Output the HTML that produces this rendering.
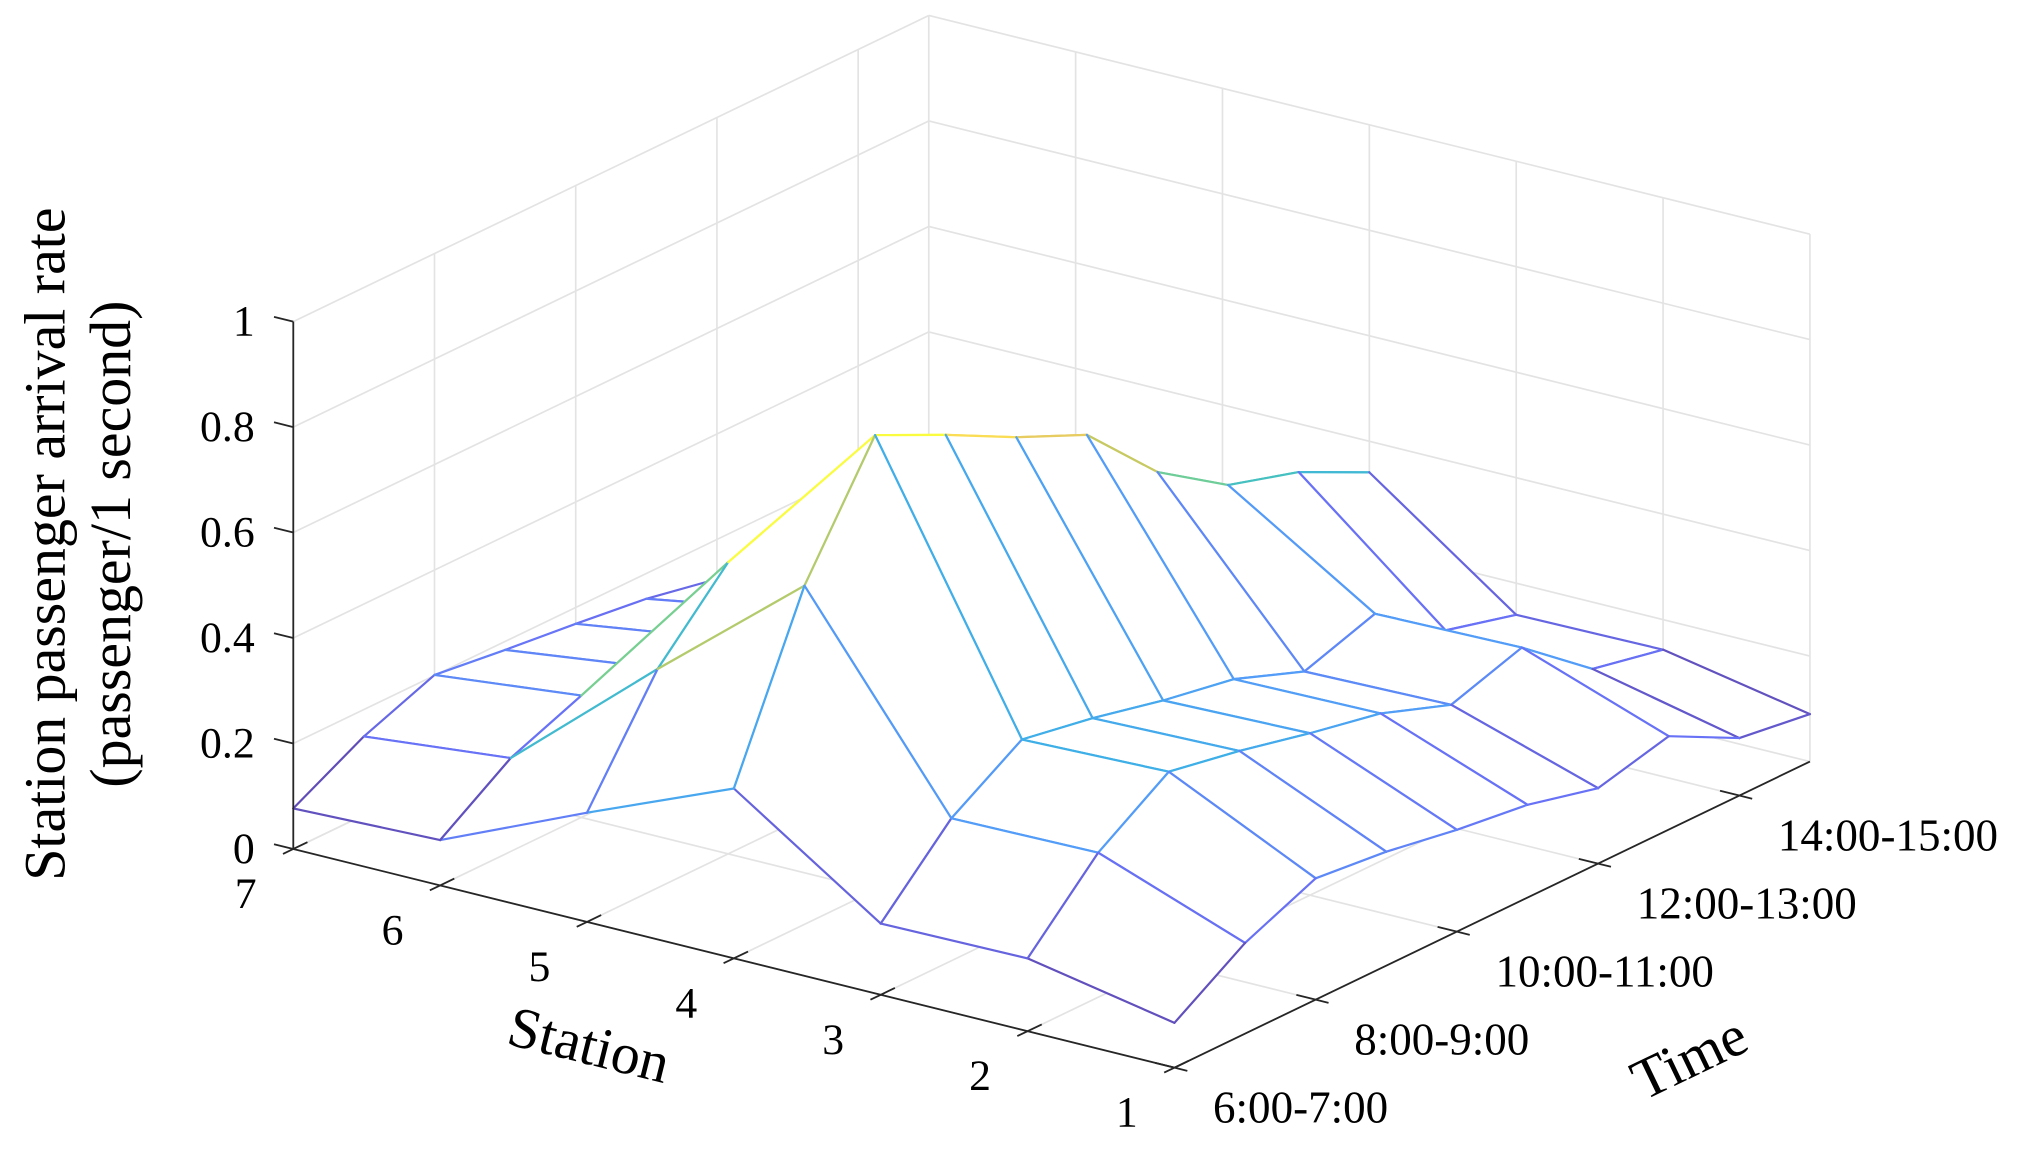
<!DOCTYPE html>
<html><head><meta charset="utf-8"><title>Station passenger arrival rate</title>
<style>html,body{margin:0;padding:0;background:#fff;}svg{display:block;}
text{font-family:"Liberation Serif",serif;fill:#000;}</style></head>
<body>
<svg id="chart" width="2017" height="1150" viewBox="0 0 1568 894" preserveAspectRatio="none" xmlns="http://www.w3.org/2000/svg">
<g id="walls"></g>
<g id="mesh"></g>
<g id="axes"></g>
<text transform="translate(35,423) rotate(-90)" text-anchor="middle" dominant-baseline="central" font-size="45">Station passenger arrival rate</text>
<text transform="translate(86,423) rotate(-90)" text-anchor="middle" dominant-baseline="central" font-size="45">(passenger/1 second)</text>
<text transform="translate(458,812) rotate(14)" text-anchor="middle" dominant-baseline="central" font-size="45">Station</text>
<text transform="translate(1313,822) rotate(-25.7)" text-anchor="middle" dominant-baseline="central" font-size="45">Time</text>
</svg>
<script>
const stationTicks=[1,2,3,4,5,6,7];
const timeTickIdx=[1,3,5,7,9];
const timeTickLabels=['6:00-7:00','8:00-9:00','10:00-11:00','12:00-13:00','14:00-15:00'];
const zTicks=[0,0.2,0.4,0.6,0.8,1];
const zTickLabels=['0','0.2','0.4','0.6','0.8','1'];
const rateS1=[0.085,0.172,0.23,0.216,0.193,0.176,0.143,0.177,0.109,0.09];
const rateS2=[0.138,0.274,0.363,0.338,0.307,0.28,0.232,0.276,0.171,0.143];
const rateS3=[0.135,0.27,0.355,0.331,0.30,0.276,0.226,0.271,0.175,0.14];
const rateS4=[0.322,0.642,0.863,0.799,0.73,0.67,0.535,0.446,0.406,0.341];
const rateS5=[0.207,0.415,0.553,0.5,0.45,0.4,0.33,0.26,0.21,0.17];
const rateS6=[0.086,0.177,0.231,0.22,0.21,0.2,0.19,0.17,0.15,0.13];
const rateS7=[0.077,0.149,0.201,0.184,0.169,0.152,0.125,0.11,0.1,0.09];
const rates=[rateS1,rateS2,rateS3,rateS4,rateS5,rateS6,rateS7];

const NS=7, NT=10;
const NSV='http://www.w3.org/2000/svg';
function proj(s,t,z){
  return [228+(7-s)*114.17+(t-1)*54.89, 660+(7-s)*28.33-(t-1)*26.44-z*410];
}
function mk(tag,attrs,parent){
  const e=document.createElementNS(NSV,tag);
  for(const k in attrs)e.setAttribute(k,attrs[k]);
  parent.appendChild(e);return e;
}
const parulaStops=[[0.2422,0.1504,0.6603],[0.2810,0.3228,0.9579],[0.1786,0.5289,0.9682],[0.0689,0.6279,0.8758],[0.1280,0.7242,0.6386],[0.3961,0.7800,0.4481],[0.7248,0.7397,0.2500],[0.9763,0.7620,0.2441],[0.9769,0.9839,0.0805]];
let zmin=Infinity,zmax=-Infinity;
rates.forEach(r=>r.forEach(v=>{zmin=Math.min(zmin,v);zmax=Math.max(zmax,v);}));
function parula(v){
  let f=(v-zmin)/(zmax-zmin||1);f=Math.max(0,Math.min(1,f));
  const p=f*(parulaStops.length-1),i=Math.min(Math.floor(p),parulaStops.length-2),u=p-i;
  const a=parulaStops[i],b=parulaStops[i+1];
  return 'rgb('+[0,1,2].map(k=>{const c=a[k]+(b[k]-a[k])*u;return Math.round(255*(c*0.82+0.18));}).join(',')+')';
}
const walls=document.getElementById('walls');
const gridCol='#e3e3e3';
function gl(p,q,name){
  const l=mk('line',{x1:p[0],y1:p[1],x2:q[0],y2:q[1],stroke:gridCol,'stroke-width':1.3},walls);
  
  
}
zTicks.forEach(z=>{
  gl(proj(7,1,z),proj(7,NT,z),'gridline-z');
  gl(proj(7,NT,z),proj(1,NT,z),'gridline-z');
});
timeTickIdx.forEach(t=>{gl(proj(7,t,0),proj(7,t,1),'gridline-time-wall');gl(proj(7,t,0),proj(1,t,0),'gridline-time-floor');});
stationTicks.forEach(s=>{gl(proj(s,NT,0),proj(s,NT,1),'gridline-station-wall');gl(proj(s,1,0),proj(s,NT,0),'gridline-station-floor');});

const mesh=document.getElementById('mesh');
const quads=[];
for(let s=1;s<NS;s++)for(let t=1;t<NT;t++){
  const u=(7-(s+0.5))/6, v=(t+0.5-1)/9;
  quads.push({s,t,depth:-494*u+685*v});
}
quads.sort((a,b)=>b.depth-a.depth);
function Z(s,t){return rates[s-1][t-1];}
quads.forEach(q=>{
  const s=q.s,t=q.t;
  const c=[[s,t],[s+1,t],[s+1,t+1],[s,t+1]];
  const pts=c.map(v=>proj(v[0],v[1],Z(v[0],v[1])));
  const g=mk('g',{},mesh);
  
  
  mk('polygon',{points:pts.map(p=>p.join(',')).join(' '),fill:'#fff',stroke:'none'},g);
  const edges=[[0,1],[1,2],[3,2],[0,3]];
  edges.forEach(e=>{
    const a=c[e[0]];
    const l=mk('line',{x1:pts[e[0]][0],y1:pts[e[0]][1],x2:pts[e[1]][0],y2:pts[e[1]][1],stroke:parula(Z(a[0],a[1])),'stroke-width':1.7,'stroke-linecap':'round'},g);
    
    
  });
});

const axes=document.getElementById('axes');
const axCol='#262626';
function al(p,q,name){
  const l=mk('line',{x1:p[0],y1:p[1],x2:q[0],y2:q[1],stroke:axCol,'stroke-width':1.4},axes);
  
  
}
al(proj(7,1,0),proj(7,1,1),'z-axis-line');
al(proj(7,1,0),proj(1,1,0),'station-axis-line');
al(proj(1,1,0),proj(1,NT,0),'time-axis-line');
zTicks.forEach((z,i)=>{
  const p=proj(7,1,z);
  al(p,[p[0]-15,p[1]-3.7],'z-tick');
  const tx=mk('text',{x:198,y:p[1],'text-anchor':'end','dominant-baseline':'central','font-size':34},axes);
  tx.textContent=zTickLabels[i];
  
  
});
stationTicks.forEach(s=>{
  const p=proj(s,1,0);
  al(p,[p[0]+11,p[1]-5.3],'station-tick');
  al(p,[p[0]-8,p[1]+3.8],'station-tick-out');
  const tx=mk('text',{x:p[0]-37,y:p[1]+35,'text-anchor':'middle','dominant-baseline':'central','font-size':34},axes);
  tx.textContent=String(s);
  
  
});
timeTickIdx.forEach((t,i)=>{
  const p=proj(1,t,0);
  al(p,[p[0]-15,p[1]-3.7],'time-tick');
  al(p,[p[0]+10,p[1]+2.5],'time-tick-out');
  const tx=mk('text',{x:p[0]+30,y:p[1]+31,'text-anchor':'start','dominant-baseline':'central','font-size':35},axes);
  tx.textContent=timeTickLabels[i];
  
  
});
</script>
</body></html>
